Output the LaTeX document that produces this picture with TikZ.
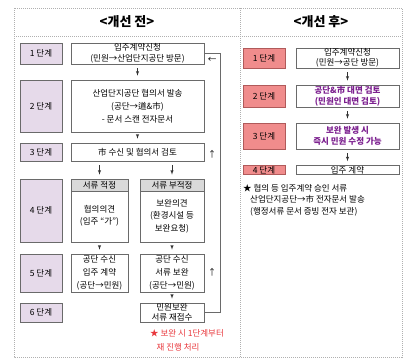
\documentclass[tikz,border=0pt]{standalone}
\usepackage{fontspec}
\setmainfont{Noto Sans CJK KR}
\usepackage{tikz}
\usetikzlibrary{arrows.meta}

\definecolor{framegray}{HTML}{B0B0B0}
\definecolor{boxline}{HTML}{6A6A6A}
\definecolor{stagefill}{HTML}{E6DAEA}
\definecolor{redfill}{HTML}{F08C8C}
\definecolor{redline}{HTML}{B05A5A}
\definecolor{headgray}{HTML}{D9D9D9}
\definecolor{purpletext}{HTML}{7B1E8E}
\definecolor{notered}{HTML}{E8383D}

\newcommand{\boxfont}{\fontsize{8.5}{12.5}\selectfont}
\newcommand{\tightfont}{\fontsize{8.5}{10.5}\selectfont}

\tikzset{
    >=latex,
    frame/.style={draw=framegray, dash pattern=on 1pt off 1pt, line width=0.8pt},
    stage/.style={shape=rectangle, draw=boxline, fill=stagefill, line width=0.7pt,
        minimum width=42pt, inner sep=0pt, font=\boxfont},
    newstage/.style={stage, draw=redline, fill=redfill},
    mainbox/.style={shape=rectangle, draw=boxline, line width=0.7pt, inner sep=0pt,
        align=center, font=\boxfont},
    headbox/.style={shape=rectangle, draw=boxline, fill=headgray, line width=0.7pt,
        inner sep=0pt, minimum height=12pt, anchor=north, font=\boxfont},
    txt/.style={inner sep=0pt, align=center, font=\boxfont},
    flow/.style={->, line width=0.5pt, draw=black!80, shorten >=4pt, shorten <=4pt},
    loopline/.style={draw=boxline, line width=0.7pt},
}

\begin{document}
\begin{tikzpicture}[x=1pt, y=-1pt]

    \useasboundingbox (0,0) rectangle (404,359);

    % frame of both panels
    \draw[frame] (14,8) rectangle (402,357);
    \draw[frame] (14,36) -- (402,36);
    \draw[frame] (240,8) -- (240,357);

    \node[font=\fontsize{13}{15}\selectfont\bfseries] (titleA) at (127,22) {<개선 전>};
    \node[font=\fontsize{13}{15}\selectfont\bfseries] (titleB) at (321,22) {<개선 후>};

    % before: stages
    \node[stage, minimum height=21pt] (s1) at (41,53.5) {1 단계};
    \node[stage, minimum height=52pt] (s2) at (41,106) {2 단계};
    \node[stage, minimum height=18pt] (s3) at (41,152) {3 단계};
    \node[stage, minimum height=63pt] (s4) at (41,210.5) {4 단계};
    \node[stage, minimum height=38pt] (s5) at (41,273) {5 단계};
    \node[stage, minimum height=19pt] (s6) at (41,312.5) {6 단계};

    % before: steps
    \node[mainbox, minimum width=133pt, minimum height=21pt, font=\fontsize{8.5}{11.5}\selectfont] (b1) at (137.5,53.5) {입주계약신청\\(민원→산업단지공단 방문)};
    \node[mainbox, minimum width=133pt, minimum height=52pt, font=\fontsize{8.5}{13}\selectfont] (b2) at (137.5,106) {산업단지공단 협의서 발송\\(공단→道\&市)\\- 문서 스캔 전자문서};
    \node[mainbox, minimum width=133pt, minimum height=18pt] (b3) at (137.5,152) {市 수신 및 협의서 검토};
    \node[mainbox, minimum width=57pt, minimum height=63pt] (b4a) at (99.5,210.5) {};
    \node[mainbox, minimum width=64pt, minimum height=63pt] (b4b) at (172,210.5) {};
    \node[headbox, minimum width=57pt] (h4a) at (b4a.north) {서류 적정};
    \node[headbox, minimum width=64pt] (h4b) at (b4b.north) {서류 부적정};
    \node[txt] (t4a) at (99.5,216) {협의의견\\(입주 “가”)};
    \node[txt] (t4b) at (172,216) {보완의견\\(환경시설 등\\보완요청)};
    \node[mainbox, minimum width=57pt, minimum height=38pt, font=\fontsize{8.5}{13}\selectfont] (b5a) at (99.5,273) {공단 수신\\입주 계약\\(공단→민원)};
    \node[mainbox, minimum width=64pt, minimum height=38pt, font=\fontsize{8.5}{13}\selectfont] (b5b) at (172,273) {공단 수신\\서류 보완\\(공단→민원)};
    \node[mainbox, minimum width=64pt, minimum height=19pt, font=\tightfont] (b6) at (172,312.5) {민원보완\\서류 재접수};
    \node[txt, text=notered] (note1) at (187,333) {★ 보완 시 1단계부터};
    \node[txt, text=notered] (note2) at (178,347) {재 진행 처리};

    \draw[flow] (b1) -- (b2);
    \draw[flow] (b2) -- (b3);
    \draw[flow] (b3.south -| b4a.north) -- (h4a.north);
    \draw[flow] (b3.south -| b4b.north) -- (h4b.north);
    \draw[flow] (b4a) -- (b5a);
    \draw[flow] (b4b) -- (b5b);
    \draw[flow] (b5b) -- (b6);

    % return to step 1
    \coordinate (turn) at (220,312.5);
    \draw[loopline] (b6.east) -- (turn) |- (b1.east);
    \node[txt] (up1) at (212,154) {↑};
    \node[txt] (up2) at (212,272) {↑};
    \node[txt] (back) at (212,60) {←};

    % after: stages
    \node[newstage, minimum height=20pt] (r1) at (264,58) {1 단계};
    \node[newstage, minimum height=22pt] (r2) at (264,96) {2 단계};
    \node[newstage, minimum height=26pt] (r3) at (264,136) {3 단계};
    \node[newstage, minimum height=9pt] (r4) at (264,170) {4 단계};

    % after: steps
    \node[mainbox, minimum width=103pt, minimum height=20pt, font=\tightfont] (c1) at (347.5,58) {입주계약신청\\(민원→공단 방문)};
    \node[mainbox, minimum width=103pt, minimum height=22pt, font=\tightfont\bfseries, text=purpletext] (c2) at (347.5,96) {공단\&市 대면 검토\\(민원인 대면 검토)};
    \node[mainbox, minimum width=103pt, minimum height=26pt, font=\fontsize{8.5}{11}\selectfont\bfseries, text=purpletext] (c3) at (347.5,136) {보완 발생 시\\즉시 민원 수정 가능};
    \node[mainbox, minimum width=103pt, minimum height=9pt] (c4) at (347.5,170) {입주 계약};

    \draw[flow] (c1) -- (c2);
    \draw[flow] (c2) -- (c3);
    \draw[flow] (c3) -- (c4);

    \node[txt, align=left, anchor=north west, font=\fontsize{8.5}{11.5}\selectfont] (memo) at (243,184) {★ 협의 등 입주계약 승인 서류\\\hspace*{7pt}산업단지공단→市 전자문서 발송\\\hspace*{7pt}(행정서류 문서 증빙 전자 보관)};

\end{tikzpicture}
\end{document}
